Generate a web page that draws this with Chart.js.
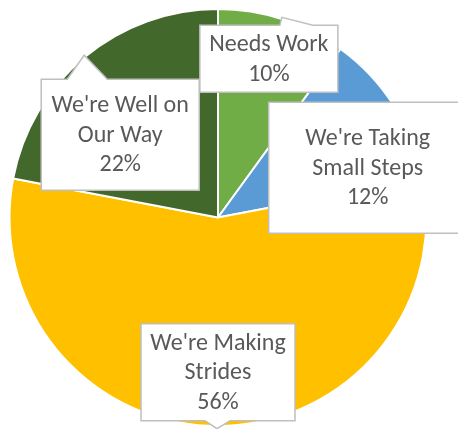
<!DOCTYPE html>
<html><head><meta charset="utf-8">
<script src="https://cdn.jsdelivr.net/npm/chart.js@4"></script>
<style>html,body{margin:0;padding:0;background:#fff}#wrap{width:458px;height:429px;position:relative}</style>
</head><body><div id="wrap"><canvas id="c"></canvas></div>
<script>
const categories = ["Needs Work", "We're Taking Small Steps", "We're Making Strides", "We're Well on Our Way"];
const labelLines = [["Needs Work"], ["We're Taking", "Small Steps"], ["We're Making", "Strides"], ["We're Well on", "Our Way"]];
const values = [10, 12, 56, 22];
const percentLabels = ["10%", "12%", "56%", "22%"];
const colors = ['#70AD47', '#5B9BD5', '#FFC000', '#43682B'];

// callout layout (box center as fraction of radius from pie center, box size, pointer)
const calloutLayout = [
  {dx: 0.244, dy: -0.761, w: 138, h: 67, ptr: {side: 'top', b1: 11, tip: 13, b2: 44, len: 8}},
  {dx: 0.718, dy: -0.239, w: 198, h: 131, ptr: null},
  {dx: 0.0, dy: 0.742, w: 154, h: 97, ptr: {side: 'bottom', b1: -13, tip: -1, b2: 12, len: 8}},
  {dx: -0.469, dy: -0.397, w: 158, h: 111, ptr: {side: 'top', b1: -53, tip: -36, b2: -13, len: 24}}
];

const FONT = '24px Carlito, Calibri, Lato, sans-serif';
const LINE_H = 29.5;

const calloutPlugin = {
  id: 'callouts',
  afterDatasetsDraw(chart) {
    const ctx = chart.ctx;
    const meta = chart.getDatasetMeta(0);
    meta.data.forEach((arc, i) => {
      const L = calloutLayout[i];
      const r = arc.outerRadius;
      const bx = arc.x + L.dx * r, by = arc.y + L.dy * r;
      const x0 = bx - L.w / 2, x1 = bx + L.w / 2, y0 = by - L.h / 2, y1 = by + L.h / 2;
      ctx.save();
      ctx.beginPath();
      ctx.moveTo(x0, y0);
      if (L.ptr && L.ptr.side === 'top') {
        ctx.lineTo(bx + L.ptr.b1, y0);
        ctx.lineTo(bx + L.ptr.tip, y0 - L.ptr.len);
        ctx.lineTo(bx + L.ptr.b2, y0);
      }
      ctx.lineTo(x1, y0);
      ctx.lineTo(x1, y1);
      if (L.ptr && L.ptr.side === 'bottom') {
        ctx.lineTo(bx + L.ptr.b2, y1);
        ctx.lineTo(bx + L.ptr.tip, y1 + L.ptr.len);
        ctx.lineTo(bx + L.ptr.b1, y1);
      }
      ctx.lineTo(x0, y1);
      ctx.closePath();
      ctx.fillStyle = '#FFFFFF';
      ctx.fill();
      ctx.lineWidth = 1.5;
      ctx.strokeStyle = '#BFBFBF';
      ctx.stroke();

      const lines = labelLines[i].concat([percentLabels[i]]);
      ctx.font = FONT;
      ctx.fillStyle = '#595959';
      ctx.textAlign = 'center';
      ctx.textBaseline = 'middle';
      const startY = by + 1 - (lines.length - 1) * LINE_H / 2;
      lines.forEach((t, k) => ctx.fillText(t, bx, startY + k * LINE_H));
      ctx.restore();
    });
  }
};

new Chart(document.getElementById('c'), {
  type: 'pie',
  data: {
    labels: categories,
    datasets: [{
      data: values,
      backgroundColor: colors,
      borderColor: '#FFFFFF',
      borderWidth: 2
    }]
  },
  options: {
    responsive: true,
    maintainAspectRatio: false,
    animation: false,
    layout: {padding: {left: 8, right: 30, top: 8, bottom: 2}},
    plugins: {legend: {display: false}, tooltip: {enabled: false}}
  },
  plugins: [calloutPlugin]
});
</script>
</body></html>
